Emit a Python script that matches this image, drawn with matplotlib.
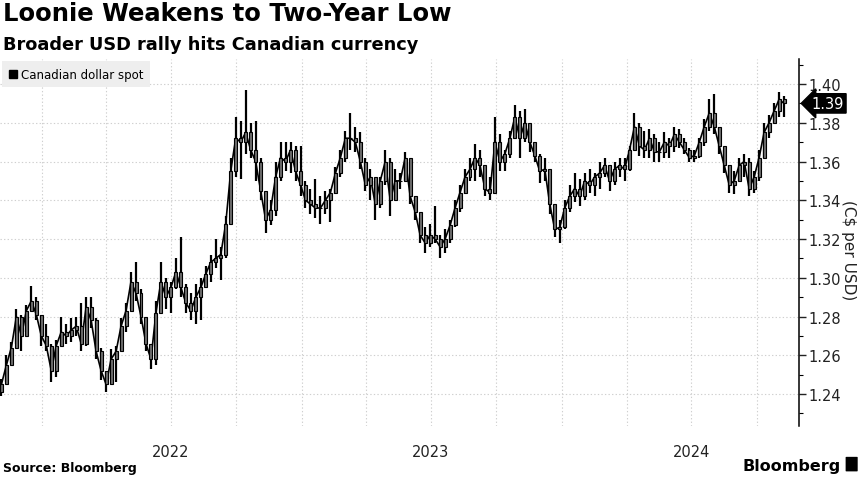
import matplotlib.pyplot as plt
import matplotlib.dates as mdates
import numpy as np
import pandas as pd
from matplotlib.patches import Patch, FancyBboxPatch
from matplotlib.ticker import MultipleLocator

# weekly USD/CAD readings (high, low, close), first week ending 2021-11-05
semanas = pd.date_range('2021-11-05', periods=158, freq='7D')
maxima = [1.248, 1.260, 1.267, 1.284, 1.281, 1.286, 1.296, 1.290, 1.281, 1.276,
          1.266, 1.268, 1.280, 1.276, 1.279, 1.280, 1.287, 1.290, 1.290, 1.279,
          1.264, 1.252, 1.263, 1.265, 1.279, 1.287, 1.303, 1.308, 1.294, 1.280,
          1.266, 1.288, 1.308, 1.300, 1.298, 1.310, 1.321, 1.297, 1.292, 1.297,
          1.300, 1.306, 1.312, 1.320, 1.316, 1.332, 1.362, 1.383, 1.381, 1.397,
          1.380, 1.381, 1.362, 1.345, 1.340, 1.360, 1.370, 1.370, 1.370, 1.368,
          1.368, 1.350, 1.346, 1.351, 1.342, 1.345, 1.346, 1.357, 1.366, 1.376,
          1.385, 1.378, 1.375, 1.362, 1.356, 1.350, 1.352, 1.366, 1.362, 1.356,
          1.354, 1.365, 1.360, 1.342, 1.331, 1.326, 1.328, 1.337, 1.322, 1.325,
          1.330, 1.340, 1.348, 1.356, 1.362, 1.369, 1.366, 1.356, 1.352, 1.383,
          1.374, 1.366, 1.376, 1.389, 1.386, 1.387, 1.378, 1.370, 1.364, 1.362,
          1.348, 1.334, 1.330, 1.340, 1.348, 1.354, 1.351, 1.354, 1.356, 1.354,
          1.360, 1.362, 1.358, 1.360, 1.362, 1.362, 1.368, 1.385, 1.380, 1.376,
          1.377, 1.374, 1.370, 1.375, 1.372, 1.378, 1.377, 1.372, 1.367, 1.366,
          1.372, 1.382, 1.392, 1.395, 1.378, 1.366, 1.358, 1.355, 1.362, 1.364,
          1.362, 1.355, 1.366, 1.380, 1.384, 1.390, 1.396, 1.394]
minimas = [1.239, 1.246, 1.256, 1.266, 1.262, 1.272, 1.283, 1.278, 1.265, 1.262,
           1.246, 1.249, 1.265, 1.266, 1.267, 1.270, 1.262, 1.265, 1.274, 1.258,
           1.247, 1.241, 1.248, 1.246, 1.262, 1.272, 1.284, 1.288, 1.276, 1.262,
           1.253, 1.255, 1.285, 1.284, 1.282, 1.294, 1.290, 1.282, 1.278, 1.276,
           1.278, 1.295, 1.298, 1.305, 1.299, 1.310, 1.328, 1.352, 1.351, 1.364,
           1.362, 1.350, 1.340, 1.323, 1.327, 1.332, 1.350, 1.355, 1.354, 1.350,
           1.342, 1.336, 1.333, 1.331, 1.328, 1.333, 1.329, 1.343, 1.352, 1.360,
           1.366, 1.365, 1.356, 1.345, 1.340, 1.330, 1.336, 1.348, 1.332, 1.340,
           1.346, 1.350, 1.338, 1.330, 1.318, 1.313, 1.316, 1.318, 1.310, 1.313,
           1.318, 1.326, 1.334, 1.343, 1.350, 1.350, 1.352, 1.342, 1.340, 1.345,
           1.355, 1.355, 1.362, 1.372, 1.362, 1.370, 1.365, 1.360, 1.349, 1.350,
           1.333, 1.321, 1.318, 1.325, 1.334, 1.339, 1.337, 1.340, 1.344, 1.342,
           1.346, 1.352, 1.345, 1.348, 1.352, 1.350, 1.355, 1.366, 1.363, 1.362,
           1.362, 1.360, 1.360, 1.362, 1.362, 1.365, 1.367, 1.364, 1.360, 1.360,
           1.362, 1.368, 1.376, 1.374, 1.364, 1.354, 1.344, 1.343, 1.350, 1.352,
           1.342, 1.344, 1.350, 1.362, 1.372, 1.380, 1.383, 1.383]
fechamento = [1.245, 1.255, 1.264, 1.280, 1.270, 1.283, 1.288, 1.281, 1.270, 1.265,
              1.252, 1.265, 1.272, 1.270, 1.273, 1.275, 1.266, 1.285, 1.278, 1.262,
              1.252, 1.245, 1.258, 1.262, 1.275, 1.283, 1.298, 1.292, 1.280, 1.266,
              1.258, 1.282, 1.298, 1.290, 1.295, 1.303, 1.295, 1.287, 1.283, 1.290,
              1.295, 1.302, 1.308, 1.310, 1.312, 1.328, 1.355, 1.372, 1.370, 1.375,
              1.366, 1.360, 1.345, 1.330, 1.335, 1.352, 1.362, 1.360, 1.366, 1.355,
              1.348, 1.340, 1.338, 1.336, 1.336, 1.340, 1.344, 1.354, 1.362, 1.372,
              1.372, 1.370, 1.360, 1.348, 1.352, 1.338, 1.350, 1.360, 1.340, 1.350,
              1.350, 1.362, 1.342, 1.334, 1.322, 1.318, 1.322, 1.320, 1.316, 1.320,
              1.327, 1.336, 1.344, 1.352, 1.356, 1.362, 1.358, 1.346, 1.344, 1.370,
              1.360, 1.364, 1.372, 1.383, 1.372, 1.380, 1.370, 1.363, 1.355, 1.356,
              1.338, 1.325, 1.326, 1.336, 1.342, 1.346, 1.342, 1.350, 1.348, 1.352,
              1.354, 1.358, 1.350, 1.356, 1.358, 1.356, 1.366, 1.378, 1.368, 1.366,
              1.372, 1.365, 1.365, 1.370, 1.368, 1.374, 1.370, 1.366, 1.362, 1.363,
              1.370, 1.378, 1.385, 1.378, 1.368, 1.358, 1.348, 1.350, 1.358, 1.360,
              1.346, 1.352, 1.362, 1.375, 1.380, 1.386, 1.392, 1.390]
abertura_inicial = 1.241
ultimo_valor = 1.39

plt.rcParams['font.family'] = ['DejaVu Sans']

fig = plt.figure(figsize=(8.62, 4.85), dpi=100)
ax = fig.add_axes([0.0, 1 - 427 / 485, 799 / 862, (427 - 60) / 485])

fechamento = np.array(fechamento)
abertura = np.r_[abertura_inicial, fechamento[:-1]]
ax.vlines(semanas, minimas, maxima, color='black', linewidth=1.6, zorder=3)
ax.plot(semanas, fechamento, color='black', linewidth=1.2, zorder=3)
ax.bar(semanas, fechamento - abertura, bottom=abertura, width=4.2,
       color='#6e6e6e', edgecolor='black', linewidth=0.8, zorder=4)

inicio = pd.Timestamp('2021-11-03')
ax.set_xlim(inicio, inicio + pd.Timedelta(days=1122))
ax.set_ylim(1.2235, 1.4129)

# quarter gridlines, year labels in the middle of each year
ax.xaxis.remove_overlapping_locs = False
ax.xaxis.set_major_locator(mdates.MonthLocator(bymonth=[1, 4, 7, 10]))
ax.xaxis.set_major_formatter(plt.NullFormatter())
ax.xaxis.set_minor_locator(mdates.MonthLocator(bymonth=[7], bymonthday=1))
ax.xaxis.set_minor_formatter(mdates.DateFormatter('%Y'))
ax.tick_params(axis='x', which='both', length=0, pad=13, labelsize=10.5, colors='#222222')

ax.yaxis.tick_right()
ax.set_yticks(np.arange(1.24, 1.401, 0.02))
ax.yaxis.set_minor_locator(MultipleLocator(0.01))
ax.yaxis.set_major_formatter(plt.FormatStrFormatter('%.2f'))
ax.tick_params(axis='y', which='major', length=5, width=1, pad=2, labelsize=10.5, colors='#222222')
ax.tick_params(axis='y', which='minor', length=3, width=0.8)

ax.grid(True, which='major', color='#cfcfcf', linestyle=(0, (1.2, 2)), linewidth=0.8)
for lado in ['top', 'left', 'bottom']:
    ax.spines[lado].set_visible(False)
ax.spines['right'].set_linewidth(1.1)

ax.legend(handles=[Patch(color='black', label='Canadian dollar spot')], loc='upper left',
          handlelength=0.7, handleheight=0.7, handletextpad=0.3, fontsize=8.5,
          frameon=True, fancybox=False, facecolor='#eeeeee', edgecolor='none',
          framealpha=1, borderaxespad=0.2, borderpad=0.55)

ax.annotate('%.2f' % ultimo_valor, xy=(1.0, ultimo_valor), xycoords=('axes fraction', 'data'),
            xytext=(9, 0), textcoords='offset points', va='center', ha='left',
            color='white', fontsize=10.5,
            bbox=dict(boxstyle='larrow,pad=0.15', fc='black', ec='black'))

fig.text(849 / 862, 1 - 250 / 485, '(C$ per USD)', rotation=-90, fontsize=11,
         ha='center', va='center', color='#222222')
fig.text(0.004, 0.995, 'Loonie Weakens to Two-Year Low', fontsize=17.5, fontweight='bold', va='top')
fig.text(0.004, 0.926, 'Broader USD rally hits Canadian currency', fontsize=12.8, fontweight='bold', va='top')
fig.text(0.004, 0.02, 'Source: Bloomberg', fontsize=9, fontweight='bold', va='bottom')
fig.text(0.975, 0.022, 'Bloomberg', fontsize=11.5, fontweight='bold', va='bottom', ha='right')
fig.patches.append(FancyBboxPatch((0.982, 0.027), 0.012, 0.028, boxstyle='round,pad=0.001',
                                  transform=fig.transFigure, facecolor='black', edgecolor='none'))

fig.savefig('out.png', dpi=100)
